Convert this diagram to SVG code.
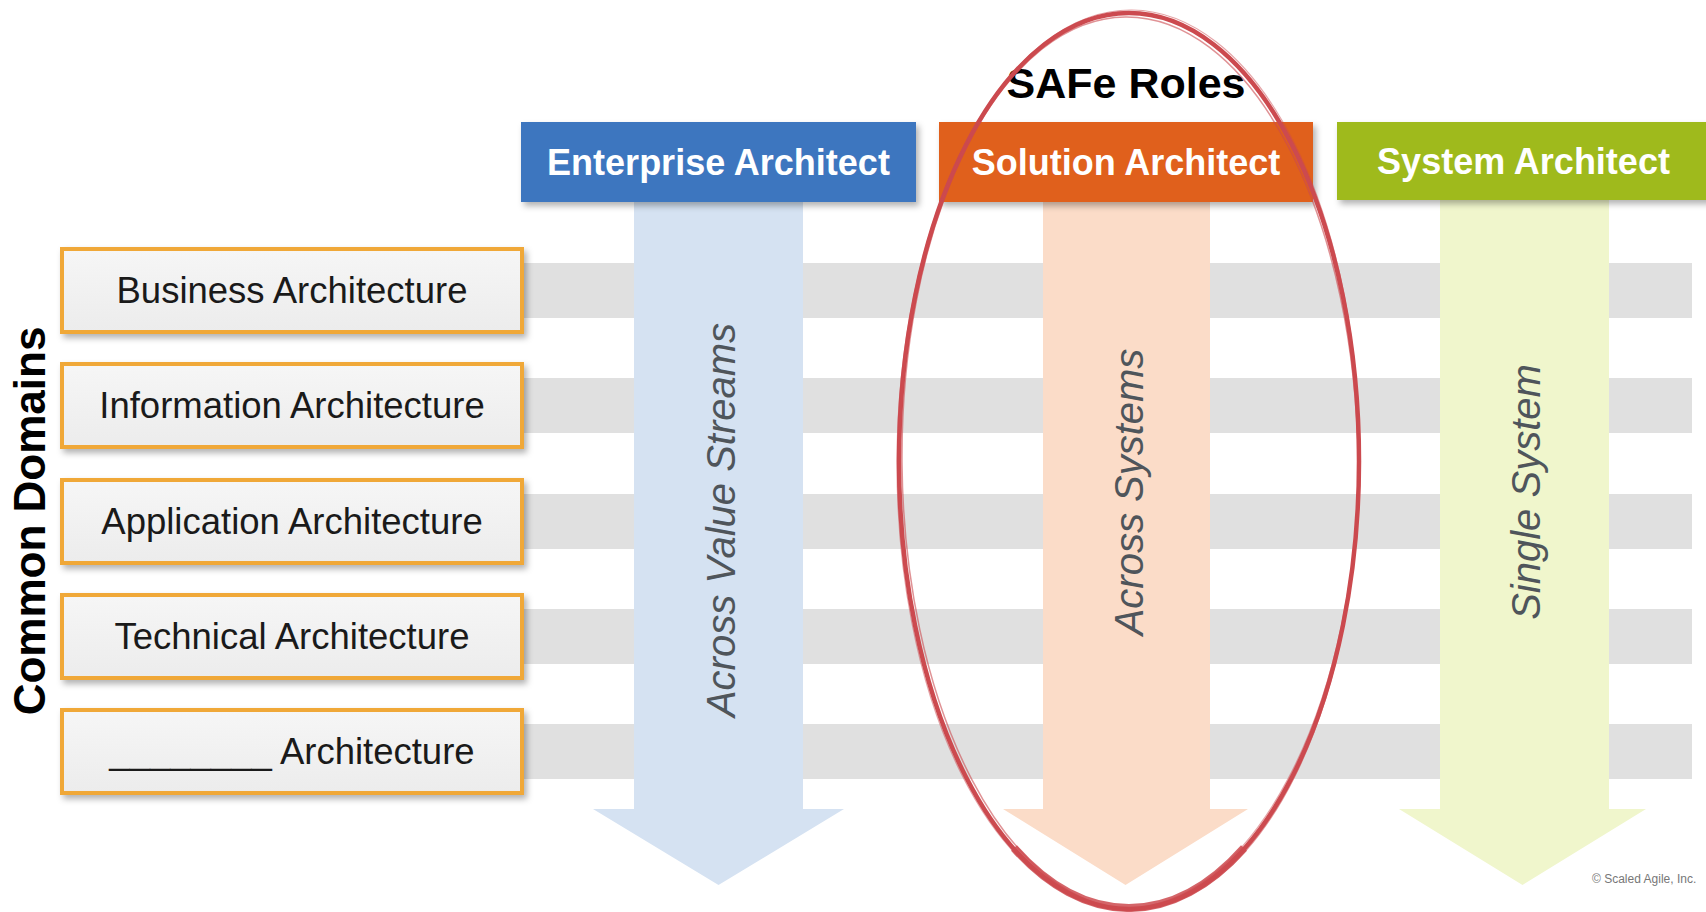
<svg xmlns="http://www.w3.org/2000/svg" width="1706" height="912" viewBox="0 0 1706 912">
<style>
  .band { fill: #e0e0e0; }
  .dbox { fill: url(#boxgrad); stroke: #f0a838; stroke-width: 4; }
  .dtxt { font-family: "Liberation Sans", Arial, sans-serif; font-size: 36.5px; fill: #1a1a1a; text-anchor: middle; }
  .htxt { font-family: "Liberation Sans", Arial, sans-serif; font-size: 36px; font-weight: bold; fill: #ffffff; text-anchor: middle; }
  .atxt { font-family: "Liberation Sans", Arial, sans-serif; font-size: 40px; font-style: italic; fill: #4f555b; text-anchor: middle; }
  .title { font-family: "Liberation Sans", Arial, sans-serif; font-weight: bold; fill: #000000; text-anchor: middle; }
  .ring { fill: none; stroke: #cc4a4f; }
</style>
<defs>
  <linearGradient id="boxgrad" x1="0" y1="0" x2="0" y2="1">
    <stop offset="0" stop-color="#f6f6f6"/>
    <stop offset="1" stop-color="#ececec"/>
  </linearGradient>
  <filter id="shadow" x="-10%" y="-20%" width="125%" height="150%">
    <feDropShadow dx="3" dy="4" stdDeviation="3" flood-color="#000" flood-opacity="0.3"/>
  </filter>
</defs>
<rect width="1706" height="912" fill="#ffffff"/>

<g id="bands">
  <rect class="band" x="500" y="263" width="1192" height="55"/>
  <rect class="band" x="500" y="378" width="1192" height="55"/>
  <rect class="band" x="500" y="494" width="1192" height="55"/>
  <rect class="band" x="500" y="609" width="1192" height="55"/>
  <rect class="band" x="500" y="724" width="1192" height="55"/>
</g>

<g id="common-domains-label">
  <text class="title" font-size="44" transform="translate(45,521) rotate(-90)">Common Domains</text>
</g>

<g id="business-architecture">
  <rect class="dbox" x="62" y="249" width="460" height="83" filter="url(#shadow)"/>
  <text class="dtxt" x="292" y="303">Business Architecture</text>
</g>
<g id="information-architecture">
  <rect class="dbox" x="62" y="364" width="460" height="83" filter="url(#shadow)"/>
  <text class="dtxt" x="292" y="418">Information Architecture</text>
</g>
<g id="application-architecture">
  <rect class="dbox" x="62" y="480" width="460" height="83" filter="url(#shadow)"/>
  <text class="dtxt" x="292" y="534">Application Architecture</text>
</g>
<g id="technical-architecture">
  <rect class="dbox" x="62" y="595" width="460" height="83" filter="url(#shadow)"/>
  <text class="dtxt" x="292" y="649">Technical Architecture</text>
</g>
<g id="blank-architecture">
  <rect class="dbox" x="62" y="710" width="460" height="83" filter="url(#shadow)"/>
  <text class="dtxt" x="292" y="764">________ Architecture</text>
</g>

<g id="arrows">
  <path d="M634,195 L803,195 L803,809 L844,809 L718.5,885 L593,809 L634,809 Z" fill="#d5e2f2"/>
  <path d="M1043,195 L1210,195 L1210,809 L1248,809 L1125.5,885 L1003,809 L1043,809 Z" fill="#fbdcc8"/>
  <path d="M1440,195 L1609,195 L1609,809 L1646,809 L1522.5,885 L1399,809 L1440,809 Z" fill="#f0f6cc"/>
</g>

<g id="across-value-streams">
  <text class="atxt" transform="translate(735,520) rotate(-90)">Across Value Streams</text>
</g>
<g id="across-systems">
  <text class="atxt" transform="translate(1143,492) rotate(-90)">Across Systems</text>
</g>
<g id="single-system">
  <text class="atxt" transform="translate(1540,492) rotate(-90)">Single System</text>
</g>

<g id="enterprise-architect">
  <rect x="521" y="122" width="395" height="80" fill="#3c76bf" filter="url(#shadow)"/>
  <text class="htxt" x="718.5" y="175">Enterprise Architect</text>
</g>
<g id="solution-architect">
  <rect x="939" y="122" width="374" height="80" fill="#e0601a" filter="url(#shadow)"/>
  <text class="htxt" x="1126" y="175">Solution Architect</text>
</g>
<g id="system-architect">
  <rect x="1337" y="122" width="380" height="78" fill="#9fba1e" filter="url(#shadow)"/>
  <text class="htxt" x="1523.5" y="174">System Architect</text>
</g>

<g id="safe-roles">
  <text class="title" font-size="43" x="1126" y="98">SAFe Roles</text>
</g>

<g id="highlight-ellipse">
  <ellipse class="ring" cx="1129" cy="461" rx="230" ry="448" stroke-width="4.5"/>
  <ellipse class="ring" cx="1130" cy="463" rx="228" ry="446" stroke-width="1.5" opacity="0.6" transform="rotate(-0.6 1129 461)"/>
  <ellipse class="ring" cx="1128" cy="459" rx="231" ry="449" stroke-width="1.2" opacity="0.5" transform="rotate(0.5 1129 461)"/>
  <path class="ring" d="M1244,849 A230,448 0 0 1 1014,849" stroke-width="8" opacity="0.85" transform="translate(0,-1)"/>
</g>

<g id="copyright">
  <text x="1592" y="883" font-family="'Liberation Sans', Arial, sans-serif" font-size="12" fill="#777777">© Scaled Agile, Inc.</text>
</g>
</svg>
